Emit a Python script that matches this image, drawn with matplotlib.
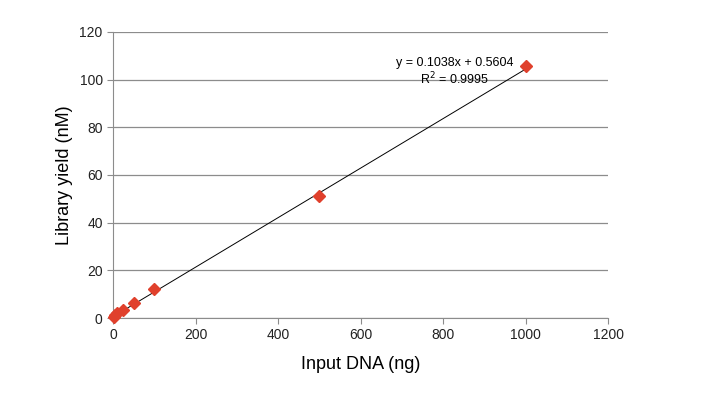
import numpy as np
import matplotlib.pyplot as plt

# input DNA (ng) vs library yield (nM)
input_dna = [1, 5, 10, 25, 50, 100, 500, 1000]
library_yield = [0.5, 1.2, 2.0, 3.5, 6.2, 12.0, 51.0, 105.5]
slope, intercept = 0.1038, 0.5604
fit_x = [0, 1000]

plt.rcParams['font.family'] = ['Liberation Sans', 'DejaVu Sans']

fig = plt.figure(figsize=(7.07, 3.98), dpi=100)
ax = fig.add_axes([0.16, 0.201, 0.70, 0.719])

ax.grid(axis='y', color='#8c8c8c', linewidth=0.9)
ax.set_axisbelow(True)

fx = np.array(fit_x)
ax.plot(fx, slope * fx + intercept, color='black', linewidth=0.7)
ax.plot(input_dna, library_yield, linestyle='none', marker='D',
        markersize=6.5, color='#e0402c', markeredgecolor='#e0402c',
        clip_on=False, zorder=3)

ax.set_xlim(0, 1200)
ax.set_ylim(0, 120)
ax.set_xticks(range(0, 1201, 200))
ax.set_yticks(range(0, 121, 20))

for s in ['top', 'right']:
    ax.spines[s].set_visible(False)
for s in ['left', 'bottom']:
    ax.spines[s].set_color('#8c8c8c')
ax.tick_params(colors='#8c8c8c', labelcolor='#222222', labelsize=10,
               direction='out', length=4)

ax.set_xlabel('Input DNA (ng)', fontsize=13, labelpad=10)
ax.set_ylabel('Library yield (nM)', fontsize=13, labelpad=5)

ax.text(828, 107, 'y = 0.1038x + 0.5604', ha='center', va='center', fontsize=9)
ax.text(828, 100.4, 'R$^2$ = 0.9995', ha='center', va='center', fontsize=9)

fig.savefig('out.png', dpi=100)
